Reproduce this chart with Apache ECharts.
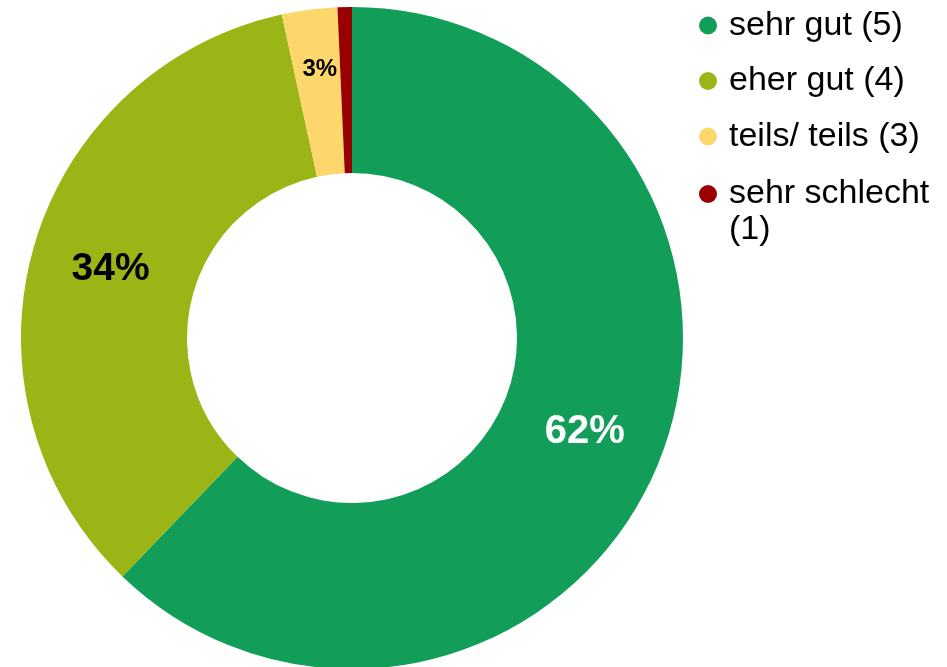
<!DOCTYPE html>
<html>
<head>
<meta charset="utf-8">
<title>Bewertung</title>
<script src="https://cdn.jsdelivr.net/npm/echarts@6/dist/echarts.min.js"></script>
<style>
    html, body { margin: 0; padding: 0; background: #ffffff; }
    #graphics { width: 947px; height: 667px; }
</style>
</head>
<body>
<div id="graphics"></div>
<script>
// data (percent of answers)
const categories = ["sehr gut (5)", "eher gut (4)", "teils/ teils (3)", "sehr schlecht (1)"];
const values = [62.2, 34.4, 2.7, 0.7];
const colors = ["#129e59", "#9bb416", "#fdd76c", "#990000"];
const label_colors = ["#ffffff", "#000000", "#000000", "#000000"];
const label_sizes = [40, 39, 24, 0];

const font = "'Liberation Sans', Arial, sans-serif";

function make_data() {
    let data = [];
    for (let i = 0; i < categories.length; i++) {
        let item = {
            name: categories[i],
            value: values[i],
            itemStyle: { color: colors[i] },
            label: {
                show: label_sizes[i] > 0,
                color: label_colors[i],
                fontSize: label_sizes[i]
            }
        };
        // the small slice has its label pushed outwards (empty 2nd line lifts it)
        if (i == 2) {
            item.label.lineHeight = 40;
            item.label.formatter = function (p) {
                return Math.round(p.value) + '%\n';
            };
        }
        data.push(item);
    }
    return data;
}

var myChart = echarts.init(document.getElementById('graphics'));

var option = {
    animation: false,
    legend: [
        {
            orient: 'vertical',
            left: 699,
            top: 7,
            padding: 0,
            itemGap: 18.5,
            itemWidth: 18,
            itemHeight: 18,
            icon: 'circle',
            data: categories.slice(0, 3),
            textStyle: {
                fontFamily: font,
                fontSize: 34,
                lineHeight: 37,
                color: '#000000',
                padding: [0, 0, 0, 7]
            }
        },
        {
            orient: 'vertical',
            left: 699,
            top: 140,
            padding: 0,
            itemWidth: 18,
            itemHeight: 18,
            icon: 'circle',
            data: categories.slice(3),
            // empty first line keeps "sehr schlecht" level with the dot
            formatter: function (name) {
                return '\n' + name.replace(' (', '\n(');
            },
            textStyle: {
                fontFamily: font,
                fontSize: 34,
                lineHeight: 36,
                color: '#000000',
                padding: [0, 0, 0, 7]
            }
        }
    ],
    series: [{
        type: 'pie',
        center: [352, 338],
        radius: [165, 331],
        startAngle: 90,
        clockwise: true,
        avoidLabelOverlap: false,
        emphasis: { disabled: true },
        label: {
            position: 'inside',
            fontFamily: font,
            fontWeight: 'bold',
            formatter: function (p) {
                return Math.round(p.value) + '%';
            }
        },
        labelLine: { show: false },
        data: make_data()
    }]
};

myChart.setOption(option);
</script>
</body>
</html>
